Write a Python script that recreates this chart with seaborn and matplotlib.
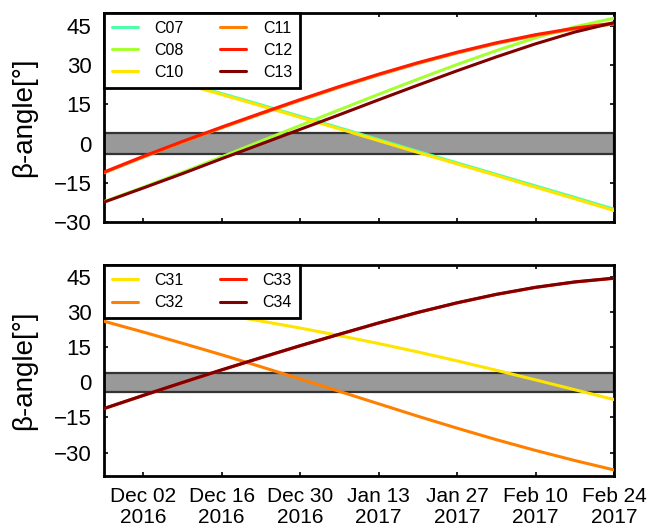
import numpy as np
import pandas as pd
import matplotlib
matplotlib.use("Agg")
import matplotlib.pyplot as plt
import matplotlib.dates as mdates
import seaborn as sns

# Weekly sample dates (Nov 25 2016 .. Feb 24 2017)
dates = pd.date_range("2016-11-25", "2017-02-24", freq="7D")

# Beta angle [deg] per satellite, upper group
C07 = [31.9, 27.7, 23.4, 19.1, 14.8, 10.4, 6.0, 1.5, -3.0, -7.4, -11.8, -16.2, -20.6, -25.1]
C08 = [-22.2, -16.7, -11.0, -5.1, 0.9, 6.9, 12.9, 18.8, 24.6, 30.2, 35.5, 40.4, 44.6, 47.9]
C10 = [31.5, 27.3, 23.0, 18.7, 14.4, 10.0, 5.6, 1.1, -3.4, -7.8, -12.2, -16.7, -21.1, -25.6]
C11 = [-11.2, -5.2, 0.5, 6.0, 11.3, 16.5, 21.5, 26.2, 30.6, 34.6, 38.2, 41.3, 43.8, 45.7]
C12 = [-10.9, -4.9, 0.8, 6.3, 11.6, 16.8, 21.8, 26.5, 30.9, 34.9, 38.5, 41.6, 44.1, 46.0]
C13 = [-22.4, -17.0, -11.5, -5.8, -0.2, 5.4, 11.0, 16.7, 22.3, 27.8, 33.1, 38.1, 42.6, 46.2]

# Beta angle [deg] per satellite, lower group
C31 = [36.4, 34.0, 31.5, 28.9, 26.1, 23.1, 19.9, 16.5, 12.9, 9.1, 5.1, 1.0, -3.2, -7.4]
C32 = [26.0, 21.4, 16.6, 11.7, 6.6, 1.4, -3.9, -9.2, -14.5, -19.6, -24.5, -29.1, -33.4, -37.4]
C33 = [-11.3, -5.7, -0.2, 5.2, 10.4, 15.5, 20.4, 25.2, 29.7, 33.8, 37.4, 40.4, 42.7, 44.3]
C34 = [-11.2, -5.6, -0.1, 5.3, 10.5, 15.6, 20.5, 25.3, 29.8, 33.9, 37.5, 40.5, 42.8, 44.4]

upper = {"C07": C07, "C08": C08, "C10": C10, "C11": C11, "C12": C12, "C13": C13}
lower = {"C31": C31, "C32": C32, "C33": C33, "C34": C34}

colors = {
    "C07": "#4dffa8", "C08": "#a6ff33", "C10": "#ffe400",
    "C11": "#ff8000", "C12": "#ff1a00", "C13": "#800000",
    "C31": "#ffe400", "C32": "#ff8000", "C33": "#ff1a00", "C34": "#800000",
}

yticks = [-30, -15, 0, 15, 30, 45]
xtick_dates = pd.date_range("2016-12-02", "2017-02-24", freq="14D")
band = 4.0

sns.set_theme(style="ticks")
plt.rcParams["font.family"] = ["Liberation Sans", "DejaVu Sans"]
plt.rcParams["text.color"] = "black"
plt.rcParams["axes.labelcolor"] = "black"
plt.rcParams["xtick.color"] = "black"
plt.rcParams["ytick.color"] = "black"


def long_frame(group):
    rows = []
    for name, vals in group.items():
        for d, v in zip(dates, vals):
            rows.append({"date": d, "beta": v, "sat": name})
    return pd.DataFrame(rows)


fig = plt.figure(figsize=(6.48, 5.29), dpi=100)
ax1 = fig.add_axes([0.1605, 0.5803, 0.787, 0.3957])
ax2 = fig.add_axes([0.1605, 0.1002, 0.787, 0.3989])

for ax, group, ylim in [(ax1, upper, (-30, 50)), (ax2, lower, (-40, 50))]:
    df = long_frame(group)
    order = list(group.keys())
    ax.axhspan(-band, band, facecolor="#999999", edgecolor="#333333",
               linewidth=1.6, zorder=1)
    sns.lineplot(data=df, x="date", y="beta", hue="sat", hue_order=order,
                 palette=[colors[k] for k in order], linewidth=2.2,
                 ax=ax, zorder=3, legend=True)
    ax.set_xlim(pd.Timestamp("2016-11-25"), pd.Timestamp("2017-02-24"))
    ax.set_ylim(*ylim)
    ax.set_yticks(yticks)
    ax.set_xticks(xtick_dates)
    ax.xaxis.set_major_formatter(mdates.DateFormatter("%b %d\n%Y"))
    ax.set_xlabel("")
    ax.set_ylabel("β-angle[°]", fontsize=20, labelpad=12, color="black")
    ax.tick_params(direction="in", length=3, width=1.2, top=True, right=True,
                   labelsize=16, pad=9, color="black", labelcolor="black")
    for sp in ax.spines.values():
        sp.set_visible(True)
        sp.set_linewidth(2.0)
        sp.set_color("black")
    handles, labels = ax.get_legend_handles_labels()
    leg = ax.legend(handles, labels, ncol=2, loc="upper left",
                    bbox_to_anchor=(0, 1), borderaxespad=0, fontsize=11.5,
                    frameon=True, fancybox=False, framealpha=1,
                    edgecolor="black", handlelength=1.6, handletextpad=1.05,
                    columnspacing=2.3, labelspacing=0.45, borderpad=0.5)
    leg.get_frame().set_linewidth(2.0)
    leg.set_zorder(10)
    for line in leg.get_lines():
        line.set_linewidth(2.2)
    for txt in leg.get_texts():
        txt.set_color("black")

ax1.tick_params(labelbottom=False)
ax2.tick_params(axis="x", labelsize=15, pad=8)
for lbl in ax2.get_xticklabels():
    lbl.set_linespacing(1.1)

fig.savefig("out.png", dpi=100)
